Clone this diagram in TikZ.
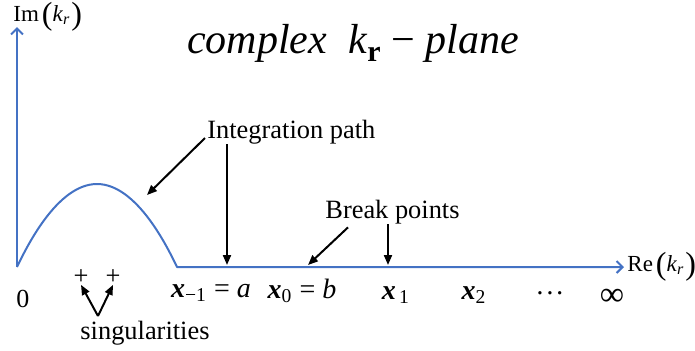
\documentclass[tikz,border=0pt]{standalone}
\usepackage{fontspec}
\setmainfont{Liberation Serif}[
  BoldFont={Liberation Serif Bold},
  ItalicFont={Liberation Serif Italic},
  BoldItalicFont={Liberation Serif Bold Italic}]
\usetikzlibrary{arrows.meta,positioning,calc}
\definecolor{pathblue}{HTML}{4472C4}
\newcommand{\xvar}{\textbf{\textit{x}}}
\newcommand{\bigpar}[1]{\raisebox{-1.8pt}{\fontsize{16}{16}\selectfont#1}}
\tikzset{
  axisline/.style={draw=pathblue, line width=1pt, line join=round,
    -{Straight Barb[length=3pt, width=6pt]}},
  ptr/.style={draw=black, line width=1pt, -{Triangle[length=5pt, width=4pt]}},
  lbl/.style={font=\fontsize{13.2}{15}\selectfont, inner sep=0pt},
  axlbl/.style={font=\fontsize{11.5}{13}\selectfont, inner sep=0pt, anchor=west},
  ticklbl/.style={font=\fontsize{14}{16}\selectfont, inner sep=0pt, anchor=base},
  titlelbl/.style={font=\fontsize{21}{24}\selectfont, inner sep=0pt, anchor=base},
}
\begin{document}
\begin{tikzpicture}[x=0.5pt, y=-0.5pt]
\useasboundingbox (0,0) rectangle (695,350);
% axes and integration path
\coordinate (origin) at (17,267);
\coordinate (imtop) at (17,27);
\coordinate (arcend) at (177,267);
\coordinate (retip) at (624,267);
\draw[axisline] (origin) -- (imtop);
\draw[axisline] (origin) parabola bend (97,184) (arcend) -- (retip);
\node[axlbl] (imlbl) at (13,17)
  {Im\kern1.5pt\bigpar{(}\textit{k}\textsubscript{\textit{r}}\kern0.5pt\bigpar{)}};
\node[axlbl, right=1.5pt of retip] (relbl)
  {Re\kern1.5pt\bigpar{(}\textit{k}\textsubscript{\textit{r}}\kern0.5pt\bigpar{)}};
\node[titlelbl] (title) at (353,53)
  {\textit{complex}\ \ \textit{k}\raisebox{-4pt}{\fontsize{15}{15}\selectfont\textbf{r}} − \textit{plane}};
% labels on the real axis
\node[ticklbl, font=\fontsize{13}{15}\selectfont] (zero) at (23,307) {0};
\node[ticklbl] (xm1) at (211,297) {\xvar\textsubscript{−1} = \textit{a}};
\node[ticklbl] (x0) at (302,298) {\xvar\textsubscript{0} = \textit{b}};
\node[ticklbl] (x1) at (396,299) {\xvar\textsubscript{\,1}};
\node[ticklbl] (x2) at (474,299) {\xvar\textsubscript{2}};
\node[ticklbl] (dots) at (550,302) {·\kern0.3pt·\kern0.3pt·};
\node[ticklbl, font=\fontsize{17}{19}\selectfont] (infty) at (612,305) {∞};
% singularities
\node[lbl] (plusa) at (81,277) {+};
\node[lbl] (plusb) at (113,277) {+};
\node[lbl, anchor=base] (singlbl) at (145,339) {singularities};
\coordinate (vapex) at (98,316);
\draw[ptr] (vapex) -- (plusa.south);
\draw[ptr] (vapex) -- (plusb.south);
% integration path pointers
\node[lbl, anchor=west] (intlbl) at (207,132) {Integration path};
\coordinate (arcpt) at (147,195);
\coordinate (linept) at (227,265);
\draw[ptr] ($(intlbl.west)+(-2,6)$) -- (arcpt);
\draw[ptr] (intlbl.south -| linept) -- (linept);
% break points
\node[lbl, anchor=west] (brklbl) at (325,212) {Break points};
\coordinate (brka) at (308,265);
\coordinate (brkb) at (388,265);
\draw[ptr] ($(brklbl.south west)+(23,3)$) -- (brka);
\draw[ptr] (brklbl.south -| brkb) -- (brkb);
\end{tikzpicture}
\end{document}
